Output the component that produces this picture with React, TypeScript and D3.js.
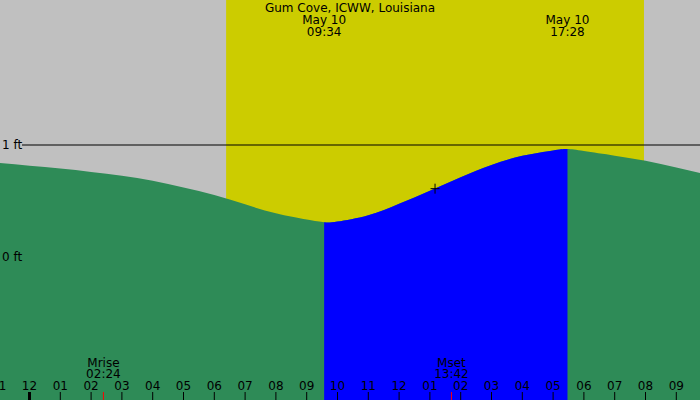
import * as d3 from "d3";

const W = 700;
const H = 400;

const STATION = "Gum Cove, ICWW, Louisiana";
const DAY_LABEL = "May 10";

// hourly tide heights (ft), hour relative to midnight May 10
const hourlyHours = [-1, 0, 1, 2, 3, 4, 5, 6, 7, 8, 9, 10, 11, 12, 13, 14, 15, 16, 17, 18, 19, 20, 21, 22];
const hourlyFeet = [
  0.84, 0.815, 0.79, 0.76, 0.725, 0.68, 0.62, 0.553, 0.47, 0.39, 0.334, 0.316,
  0.373, 0.475, 0.592, 0.712, 0.822, 0.903, 0.951, 0.946, 0.905, 0.86, 0.8, 0.735,
];

// low then high tide
const extremeTimes = ["09:34", "17:28"];
const extremeFeet = [0.31, 0.964];

const sunTimes = ["06:23", "19:57"];
const moonNames = ["Mrise", "Mset"];
const moonTimes = ["02:24", "13:42"];

const markerTime = "13:10";
const markerFeet = 0.61;

const levelFeet = [0, 1];

const at = (h: number, m = 0) => new Date(2024, 4, 10, h, m);
const parseClock = (s: string) => {
  const [h, m] = s.split(":").map(Number);
  return at(h, m);
};

const FONT = "DejaVu Sans";

export default function App() {
  const x = d3.scaleTime().domain([at(0), at(21)]).range([29.5, 676.3]);
  const y = d3.scaleLinear().domain([0, 1]).range([257, 145]);

  const tide: [Date, number][] = hourlyHours
    .map((h, i) => [at(h), hourlyFeet[i]] as [Date, number])
    .concat(extremeTimes.map((t, i) => [parseClock(t), extremeFeet[i]] as [Date, number]))
    .sort((a, b) => +a[0] - +b[0]);

  const area = d3
    .area<[Date, number]>()
    .x((d) => x(d[0]))
    .y0(H)
    .y1((d) => y(d[1]))
    .curve(d3.curveNatural);

  const low = parseClock(extremeTimes[0]);
  const high = parseClock(extremeTimes[1]);
  const sunrise = parseClock(sunTimes[0]);
  const sunset = parseClock(sunTimes[1]);

  const ticks = d3.timeHour.range(at(-1), at(22));
  const fmt = d3.timeFormat("%I");

  const mx = x(parseClock(markerTime));
  const my = y(markerFeet);

  return (
    <svg
      width={W}
      height={H}
      style={{ position: "absolute", left: 0, top: 0, display: "block" }}
      fontFamily={FONT}
      fontSize={12}
    >
      <defs>
        <clipPath id="rising">
          <rect x={x(low)} y={0} width={x(high) - x(low)} height={H} />
        </clipPath>
      </defs>
      <rect width={W} height={H} fill="#c0c0c0" />
      <rect x={x(sunrise)} y={0} width={x(sunset) - x(sunrise)} height={H} fill="#cccc00" />
      <path d={area(tide) ?? ""} fill="#2e8b57" />
      <path d={area(tide) ?? ""} fill="#0000ff" clipPath="url(#rising)" />

      <line x1={22} x2={W} y1={y(1)} y2={y(1)} stroke="#000" strokeWidth={1} />
      {levelFeet.map((f) => (
        <text key={f} x={2} y={y(f) + 4.3} fill="#000">
          {f} ft
        </text>
      ))}

      <line x1={mx - 4.5} x2={mx + 4.5} y1={my} y2={my} stroke="#000" />
      <line x1={mx} x2={mx} y1={my - 5} y2={my + 5} stroke="#000" />

      <text x={W / 2} y={12} textAnchor="middle">
        {STATION}
      </text>
      {extremeTimes.map((t) => (
        <g key={t} transform={`translate(${x(parseClock(t))},0)`} textAnchor="middle">
          <text y={24}>{DAY_LABEL}</text>
          <text y={36}>{t}</text>
        </g>
      ))}

      {moonTimes.map((t, i) => (
        <g key={t} transform={`translate(${x(parseClock(t))},0)`}>
          <text y={366.5} textAnchor="middle">
            {moonNames[i]}
          </text>
          <text y={378} textAnchor="middle">
            {t}
          </text>
          <line x1={0} x2={0} y1={392} y2={H} stroke="#ff0000" />
        </g>
      ))}

      {ticks.map((t) => (
        <g key={+t} transform={`translate(${x(t)},0)`}>
          <text y={389.5} textAnchor="middle">
            {fmt(t)}
          </text>
          <line
            x1={0}
            x2={0}
            y1={392}
            y2={H}
            stroke="#000"
            strokeWidth={t.getHours() === 0 ? 3 : 1}
          />
        </g>
      ))}
    </svg>
  );
}
